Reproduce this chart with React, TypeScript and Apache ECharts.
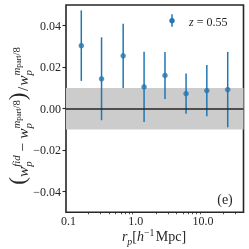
import React, { useEffect, useRef } from 'react';
import * as echarts from 'echarts';

// ---- data ----
const rp = [0.155, 0.31, 0.65, 1.33, 2.72, 5.6, 11.4, 23.3];
const fracDiff = [0.0304, 0.0144, 0.0255, 0.0105, 0.016, 0.0073, 0.0087, 0.0092];
const fracErr = [0.017, 0.02, 0.0155, 0.017, 0.0113, 0.0097, 0.0124, 0.0182];
const xMajorTicks = [0.1, 1, 10];
const xMinorTicks = [0.2, 0.3, 0.4, 0.5, 0.6, 0.7, 0.8, 0.9, 2, 3, 4, 5, 6, 7, 8, 9, 20, 30];
const yTicks = [-0.04, -0.02, 0, 0.02, 0.04];
const bandRange = [-0.01, 0.01];
const legendZ = '0.55';
const panelLabel = '(e)';

const FONT = '"Liberation Serif", "DejaVu Serif", serif';
const BLUE = '#1f77b4';
const INK = '#262626';

type P = { t: string; s: number; dy?: number; it?: boolean };
type Item = P | { up: P[]; dn: P[] } | { gap: number };

function layoutMath(items: Item[], ctx: CanvasRenderingContext2D) {
  const els: any[] = [];
  let x = 0;
  const put = (p: P, x0: number) => {
    ctx.font = `${p.it ? 'italic ' : ''}${p.s}px ${FONT}`;
    const w = ctx.measureText(p.t).width;
    els.push({
      type: 'text',
      x: x0,
      y: (p.dy || 0) - 0.34 * p.s,
      silent: true,
      style: {
        text: p.t,
        fontSize: p.s,
        fontFamily: FONT,
        fontStyle: p.it ? 'italic' : 'normal',
        fill: INK,
        align: 'left',
        verticalAlign: 'middle',
      },
    });
    return w;
  };
  for (const it of items) {
    if ('gap' in it) x += it.gap;
    else if ('up' in it) {
      let xu = x;
      for (const p of it.up) xu += put(p, xu);
      let xd = x;
      for (const p of it.dn) xd += put(p, xd);
      x = Math.max(xu, xd);
    } else x += put(it, x);
  }
  return { els, width: x };
}

function yTitleItems(F: number): Item[] {
  const sup = -0.5 * F;
  const sub = 0.25 * F;
  const mpart = (): Item => ({
    up: [
      { t: 'm', s: 0.7 * F, dy: sup, it: true },
      { t: 'part', s: 0.5 * F, dy: sup + 0.12 * F },
      { t: '/8', s: 0.7 * F, dy: sup },
    ],
    dn: [{ t: 'p', s: 0.7 * F, dy: sub, it: true }],
  });
  return [
    { t: '(', s: 1.5 * F, dy: -0.15 * F },
    { t: 'w', s: F, it: true },
    {
      up: [{ t: 'fid', s: 0.7 * F, dy: sup, it: true }],
      dn: [{ t: 'p', s: 0.7 * F, dy: sub, it: true }],
    },
    { gap: 0.25 * F },
    { t: '\u2212', s: F },
    { gap: 0.25 * F },
    { t: 'w', s: F, it: true },
    mpart(),
    { t: ')', s: 1.5 * F, dy: -0.15 * F },
    { gap: 0.1 * F },
    { t: '/', s: F },
    { gap: 0.05 * F },
    { t: 'w', s: F, it: true },
    mpart(),
  ];
}

function xTitleItems(F: number): Item[] {
  return [
    { t: 'r', s: F, it: true },
    { t: 'p', s: 0.7 * F, dy: 0.22 * F, it: true },
    { t: '[', s: F },
    { t: 'h', s: F, it: true },
    { t: '\u22121', s: 0.7 * F, dy: -0.42 * F },
    { gap: 0.1 * F },
    { t: 'Mpc]', s: F },
  ];
}

export default function App() {
  const ref = useRef<HTMLDivElement>(null);

  useEffect(() => {
    if (!ref.current) return;
    const chart = echarts.init(ref.current, undefined, { renderer: 'svg' });
    const ctx = document.createElement('canvas').getContext('2d') as CanvasRenderingContext2D;

    // y-axis title (rotated)
    const probe = layoutMath(yTitleItems(14), ctx);
    const Fy = Math.max(12, Math.min(15.5, (14 * 170) / probe.width));
    const yT = layoutMath(yTitleItems(Fy), ctx);
    yT.els.forEach((e) => (e.x -= yT.width / 2));

    // x-axis title
    const xT = layoutMath(xTitleItems(14), ctx);

    // legend text
    const lg = layoutMath(
      [
        { t: 'z', s: 12, it: true },
        { t: ' = ' + legendZ, s: 12 },
      ],
      ctx
    );

    const errData = rp.map((x, i) => [x, fracDiff[i], fracErr[i]]);
    const ptData = rp.map((x, i) => [x, fracDiff[i]]);

    const xmin = 0.0918;
    const xmax = 40;

    chart.setOption({
      animation: false,
      grid: {
        left: 66,
        right: 5.5,
        top: 5,
        bottom: 36.7,
        show: true,
        borderColor: INK,
        borderWidth: 1.6,
        backgroundColor: 'transparent',
        outerBoundsMode: 'none',
        containLabel: false,
      },
      xAxis: [
        {
          type: 'log',
          logBase: 10,
          min: xmin,
          max: xmax,
          position: 'bottom',
          axisLine: { show: false },
          splitLine: { show: false },
          minorTick: { show: false },
          axisTick: {
            show: true,
            customValues: xMajorTicks,
            length: 3.5,
            lineStyle: { color: INK, width: 1.1 },
          },
          axisLabel: {
            customValues: xMajorTicks,
            formatter: (v: number) => Number(v).toFixed(1),
            fontFamily: FONT,
            fontSize: 12,
            color: INK,
            margin: 3,
          },
        },
        {
          type: 'log',
          logBase: 10,
          min: xmin,
          max: xmax,
          position: 'bottom',
          offset: 0,
          axisLine: { show: false },
          splitLine: { show: false },
          axisLabel: { show: false },
          axisTick: {
            show: true,
            customValues: xMinorTicks,
            length: 2,
            lineStyle: { color: INK, width: 0.8 },
          },
        },
      ],
      yAxis: {
        type: 'value',
        min: -0.05,
        max: 0.05,
        axisLine: { show: false },
        splitLine: { show: false },
        axisTick: {
          show: true,
          customValues: yTicks,
          length: 3.5,
          lineStyle: { color: INK, width: 1.1 },
        },
        axisLabel: {
          customValues: yTicks,
          formatter: (v: number) => Number(v).toFixed(2).replace('-', '\u2212'),
          fontFamily: FONT,
          fontSize: 12,
          color: INK,
          margin: 5,
        },
      },
      series: [
        {
          type: 'custom',
          name: 'error',
          xAxisIndex: 0,
          yAxisIndex: 0,
          data: errData,
          encode: { x: 0, y: 1 },
          z: 3,
          renderItem: (params: any, api: any) => {
            const x = api.value(0);
            const y = api.value(1);
            const e = api.value(2);
            const top = api.coord([x, y + e]);
            const bot = api.coord([x, y - e]);
            return {
              type: 'line',
              shape: { x1: top[0], y1: top[1], x2: bot[0], y2: bot[1] },
              style: { stroke: BLUE, lineWidth: 1.5 },
            };
          },
          markArea: {
            silent: true,
            itemStyle: { color: '#cccccc' },
            label: { show: false },
            data: [[{ yAxis: bandRange[0] }, { yAxis: bandRange[1] }]],
          },
          markLine: {
            silent: true,
            symbol: 'none',
            label: { show: false },
            lineStyle: { color: INK, width: 1.5, type: 'solid' },
            data: [{ yAxis: 0 }],
          },
        },
        {
          type: 'scatter',
          name: 'z = ' + legendZ,
          xAxisIndex: 0,
          yAxisIndex: 0,
          data: ptData,
          symbol: 'circle',
          symbolSize: 5.5,
          itemStyle: { color: BLUE },
          z: 4,
        },
      ],
      graphic: [
        {
          type: 'group',
          x: 27.5,
          y: 116,
          rotation: Math.PI / 2,
          children: yT.els,
        },
        {
          type: 'group',
          x: 154 - xT.width / 2,
          y: 241.5,
          children: xT.els,
        },
        {
          type: 'line',
          shape: { x1: 172, y1: 14.3, x2: 172, y2: 26.7 },
          style: { stroke: BLUE, lineWidth: 1.5 },
          silent: true,
        },
        {
          type: 'circle',
          shape: { cx: 172, cy: 20.7, r: 2.75 },
          style: { fill: BLUE },
          silent: true,
        },
        {
          type: 'group',
          x: 189,
          y: 25.6,
          children: lg.els,
        },
        {
          type: 'text',
          x: 225,
          y: 199,
          silent: true,
          style: {
            text: panelLabel,
            fontSize: 14,
            fontFamily: FONT,
            fill: INK,
            align: 'center',
            verticalAlign: 'middle',
          },
        },
      ],
    });

    return () => chart.dispose();
  }, []);

  return (
    <div
      ref={ref}
      style={{ position: 'fixed', left: 0, top: 0, width: 249, height: 249 }}
    />
  );
}
